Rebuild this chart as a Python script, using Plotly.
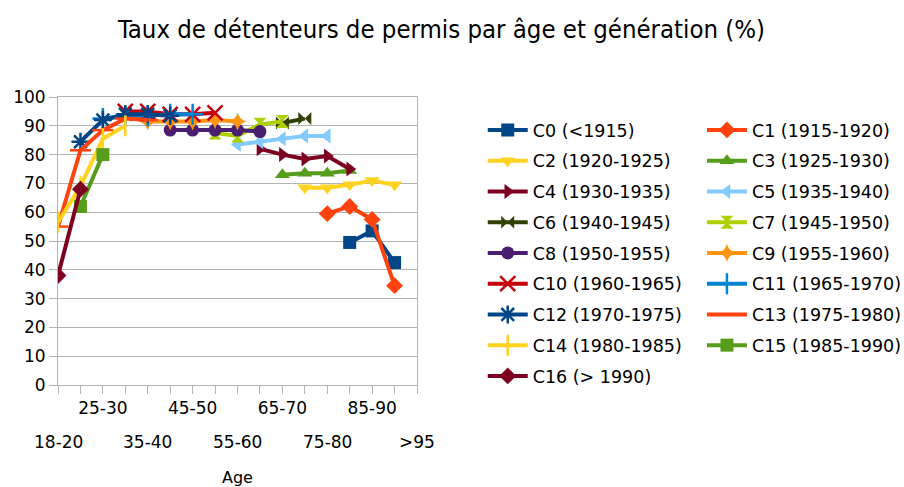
import plotly.graph_objects as go

categories = ["18-20", "20-25", "25-30", "30-35", "35-40", "40-45", "45-50", "50-55",
              "55-60", "60-65", "65-70", "70-75", "75-80", "80-85", "85-90", "90-95", ">95"]

# series values by category index (None = no data)
N = None
c0 = [N, N, N, N, N, N, N, N, N, N, N, N, N, 49.5, 53.5, 42.5, N]
c1 = [N, N, N, N, N, N, N, N, N, N, N, N, 59.5, 62, 57.5, 34.5, N]
c2 = [N, N, N, N, N, N, N, N, N, N, N, 68.5, 68.5, 69.5, 71, 69.5, N]
c3 = [N, N, N, N, N, N, N, N, N, N, 73, 73.5, 73.5, 74.5, N, N, N]
c4 = [N, N, N, N, N, N, N, N, N, 82, 80, 78.5, 79.5, 75, N, N, N]
c5 = [N, N, N, N, N, N, N, N, 83.5, 84.5, 85.5, 86.5, 86.5, N, N, N, N]
c6 = [N, N, N, N, N, N, N, N, N, N, 91, 92.5, N, N, N, N, N]
c7 = [N, N, N, N, N, N, N, 87.5, 86.5, 90.5, 91.5, N, N, N, N, N, N]
c8 = [N, N, N, N, N, 88.5, 88.5, 88.5, 88.5, 88, N, N, N, N, N, N, N]
c9 = [N, N, N, N, 91.5, 91.5, 91.5, 92, 91.5, N, N, N, N, N, N, N, N]
c10 = [N, N, N, 95, 95, 94, 94, 94.5, N, N, N, N, N, N, N, N, N]
c11 = [N, N, 92.5, 93.5, 93.5, 94, 94, N, N, N, N, N, N, N, N, N, N]
c12 = [N, 84.5, 92, 94, 94, 93.5, N, N, N, N, N, N, N, N, N, N, N]
c13 = [55, 81.5, 88.5, 92.5, 92, N, N, N, N, N, N, N, N, N, N, N, N]
c14 = [56.5, 69, 85.5, 90, N, N, N, N, N, N, N, N, N, N, N, N, N]
c15 = [N, 62, 80, N, N, N, N, N, N, N, N, N, N, N, N, N, N]
c16 = [38, 68, N, N, N, N, N, N, N, N, N, N, N, N, N, N, N]

names = ["C0 (<1915)", "C1 (1915-1920)", "C2 (1920-1925)", "C3 (1925-1930)",
         "C4 (1930-1935)", "C5 (1935-1940)", "C6 (1940-1945)", "C7 (1945-1950)",
         "C8 (1950-1955)", "C9 (1955-1960)", "C10 (1960-1965)", "C11 (1965-1970)",
         "C12 (1970-1975)", "C13 (1975-1980)", "C14 (1980-1985)", "C15 (1985-1990)",
         "C16 (> 1990)"]
series = [c0, c1, c2, c3, c4, c5, c6, c7, c8, c9, c10, c11, c12, c13, c14, c15, c16]

colors = ["#004586", "#ff420e", "#ffd320", "#579d1c", "#7e0021", "#83caff", "#314004",
          "#aecf00", "#4b1f6f", "#ff950e", "#c5000b", "#0084d1", "#004586", "#ff420e",
          "#ffd320", "#579d1c", "#7e0021"]
symbols = ["square", "diamond", "triangle-down", "triangle-up", "triangle-right",
           "triangle-left", "bowtie", "hourglass", "circle", "star-diamond", "x-thin",
           "cross-thin", "asterisk", "line-ew", "line-ns", "square", "diamond"]

fig = go.Figure()
for i, (name, vals, col, sym) in enumerate(zip(names, series, colors, symbols)):
    thin = sym in ("x-thin", "cross-thin", "asterisk", "line-ew", "line-ns")
    fig.add_trace(go.Scatter(
        x=categories, y=vals, name=name, mode="lines+markers",
        line=dict(color=col, width=4),
        marker=dict(symbol=sym, color=col, size=15 if thin else 13,
                    line=dict(color=col, width=2.5 if thin else 0)),
        connectgaps=False,
        legend="legend" if i % 2 == 0 else "legend2",
        legendgroup=name,
    ))

# staggered labels: upper row as tick labels, lower row as annotations
ticktext = [c if i % 4 == 2 else "" for i, c in enumerate(categories)]
for i, c in enumerate(categories):
    if i % 4 == 0:
        fig.add_annotation(x=c, xref="x", y=-0.199, yref="paper", text=c,
                           showarrow=False, yanchor="middle",
                           font=dict(size=17))

leg = dict(orientation="v", xref="container", yref="container",
           y=0.770, yanchor="top", xanchor="left",
           font=dict(size=17.5), itemwidth=40, tracegroupgap=5,
           bgcolor="rgba(0,0,0,0)", maxheight=400)

fig.update_layout(
    width=904, height=487,
    paper_bgcolor="white", plot_bgcolor="white",
    font=dict(family="DejaVu Sans", size=17, color="black"),
    title=dict(text="Taux de détenteurs de permis par âge et génération (%)",
               x=0.4884, xanchor="center", y=0.9394, yanchor="middle",
               font=dict(family="DejaVu Sans Condensed, DejaVu Sans", size=25.5)),
    margin=dict(l=58, r=487, t=97, b=102),
    xaxis=dict(
        type="category", range=[0, 16], tickangle=0, automargin=False,
        tickmode="array", tickvals=categories, ticktext=ticktext,
        ticks="outside", ticklen=8, tickcolor="#b3b3b3",
        showline=True, linecolor="#b3b3b3", mirror=True,
        showgrid=False,
        title=dict(text="Age", font=dict(size=16), standoff=62),
    ),
    yaxis=dict(
        range=[0, 100], dtick=10, tick0=0, automargin=False,
        ticks="outside", ticklen=8, tickcolor="#b3b3b3",
        showline=True, linecolor="#b3b3b3", mirror=True,
        showgrid=True, gridcolor="#b3b3b3", gridwidth=1,
        zeroline=False,
    ),
    legend=dict(leg, x=0.534),
    legend2=dict(leg, x=0.7765),
)

fig.write_html("out.html", config={"displayModeBar": False},
               post_script="document.body.style.margin='0';")
